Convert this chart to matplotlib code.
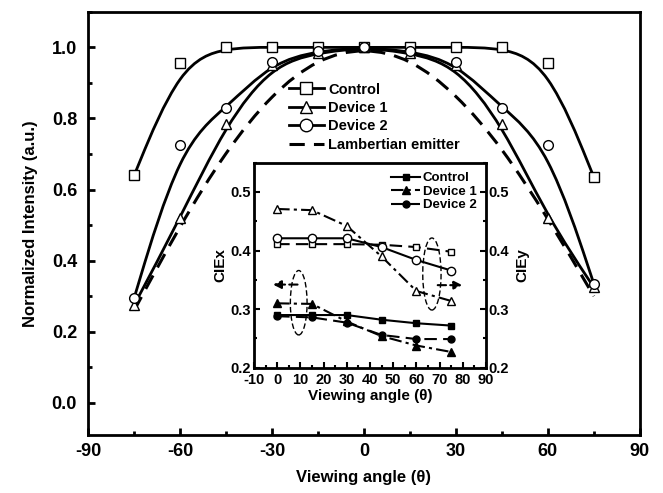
import numpy as np
import matplotlib
matplotlib.use('Agg')
import matplotlib.pyplot as plt
from matplotlib.path import Path
from matplotlib.patches import PathPatch, Ellipse
from matplotlib.lines import Line2D
from matplotlib.ticker import MultipleLocator, FormatStrFormatter

plt.rcParams['font.family'] = ['Liberation Sans', 'DejaVu Sans']
plt.rcParams['font.weight'] = 'bold'
plt.rcParams['axes.unicode_minus'] = False

# main plot: normalized intensity vs viewing angle
angle = [-75, -60, -45, -30, -15, 0, 15, 30, 45, 60, 75]
control = [0.64, 0.955, 1.0, 1.0, 1.0, 1.0, 1.0, 1.0, 1.0, 0.955, 0.635]
device1 = [0.275, 0.52, 0.785, 0.95, 0.985, 1.0, 0.985, 0.95, 0.785, 0.52, 0.325]
device2 = [0.295, 0.725, 0.83, 0.958, 0.99, 1.0, 0.99, 0.958, 0.83, 0.725, 0.335]
lambert = [0.26, 0.5, 0.71, 0.87, 0.97, 1.0, 0.97, 0.87, 0.72, 0.52, 0.3]

# inset: CIE coordinates vs viewing angle
ang_in = [0, 15, 30, 45, 60, 75]
ciex_control = [0.29, 0.29, 0.29, 0.282, 0.276, 0.272]
ciex_dev1 = [0.31, 0.309, 0.279, 0.254, 0.238, 0.227]
ciex_dev2 = [0.288, 0.286, 0.277, 0.256, 0.249, 0.249]
ciey_control = [0.411, 0.411, 0.411, 0.41, 0.406, 0.398]
ciey_dev1 = [0.471, 0.469, 0.442, 0.39, 0.331, 0.314]
ciey_dev2 = [0.421, 0.421, 0.421, 0.406, 0.384, 0.366]


def bspline_curve(ax, x, y, **kw):
    # uniform cubic B-spline (ends clamped), drawn as bezier path
    P = np.column_stack([x, y]).astype(float)
    Q = np.vstack([P[0], P[0], P, P[-1], P[-1]])
    verts = []
    codes = []
    for i in range(1, len(Q) - 2):
        b0 = (Q[i - 1] + 4 * Q[i] + Q[i + 1]) / 6
        b1 = (2 * Q[i] + Q[i + 1]) / 3
        b2 = (Q[i] + 2 * Q[i + 1]) / 3
        b3 = (Q[i] + 4 * Q[i + 1] + Q[i + 2]) / 6
        if not verts:
            verts.append(b0)
            codes.append(Path.MOVETO)
        verts += [b1, b2, b3]
        codes += [Path.CURVE4] * 3
    ax.add_patch(PathPatch(Path(verts, codes), fill=False, **kw))


fig = plt.figure(figsize=(6.63, 4.93), dpi=100)
ax = fig.add_axes([0.133, 0.118, 0.832, 0.858])

lw = 2.0
bspline_curve(ax, angle, control, lw=lw, color='black', zorder=2)
bspline_curve(ax, angle, device1, lw=lw, color='black', zorder=2)
bspline_curve(ax, angle, device2, lw=lw, color='black', zorder=2)
bspline_curve(ax, angle, lambert, lw=2.2, color='black', linestyle=(0, (5, 3)), zorder=2)

mk = dict(linestyle='none', mfc='white', mec='black', mew=1.0, ms=7, zorder=3)
ax.plot(angle, control, marker='s', **mk)
ax.plot(angle, device1, marker='^', **mk)
ax.plot(angle, device2, marker='o', **mk)

ax.set_xlim(-90, 90)
ax.set_ylim(-0.09, 1.1)
ax.xaxis.set_major_locator(MultipleLocator(30))
ax.xaxis.set_minor_locator(MultipleLocator(15))
ax.yaxis.set_major_locator(MultipleLocator(0.2))
ax.yaxis.set_minor_locator(MultipleLocator(0.1))
ax.yaxis.set_major_formatter(FormatStrFormatter('%.1f'))
ax.tick_params(which='both', direction='in', width=2, labelsize=13)
ax.tick_params(axis='x', pad=6)
ax.tick_params(axis='y', pad=8)
ax.tick_params(which='major', length=5)
ax.tick_params(which='minor', length=3)
for s in ax.spines.values():
    s.set_linewidth(2)
ax.set_xlabel('Viewing angle (θ)', fontsize=12, fontweight='bold', labelpad=7)
ax.set_ylabel('Normalized Intensity (a.u.)', fontsize=12, fontweight='bold', labelpad=10)

hl = [Line2D([], [], color='black', lw=lw, marker='s', mfc='white', mec='black', ms=9),
      Line2D([], [], color='black', lw=lw, marker='^', mfc='white', mec='black', ms=9),
      Line2D([], [], color='black', lw=lw, marker='o', mfc='white', mec='black', ms=9),
      Line2D([], [], color='black', lw=2.2, linestyle=(0, (5, 3)))]
ax.legend(hl, ['Control', 'Device 1', 'Device 2', 'Lambertian emitter'],
          loc='upper left', bbox_to_anchor=(0.35, 0.85), frameon=False,
          prop={'size': 10.5, 'weight': 'bold'}, handlelength=2.4,
          handletextpad=0.3, labelspacing=0.3, borderpad=0)

# inset
ins = fig.add_axes([0.383, 0.254, 0.350, 0.416])
ins.plot(ang_in, ciex_control, color='black', lw=1.5, marker='s', ms=5)
ins.plot(ang_in, ciex_dev1, color='black', lw=1.5, marker='^', ms=5.5, linestyle=(0, (6, 2, 1.5, 2)))
ins.plot(ang_in, ciex_dev2, color='black', lw=1.5, marker='o', ms=5, linestyle=(0, (6, 3)))
ins.plot(ang_in, ciey_control, color='black', lw=1.5, marker='s', ms=5, mfc='white', linestyle=(0, (6, 3)))
ins.plot(ang_in, ciey_dev1, color='black', lw=1.5, marker='^', ms=6, mfc='white', linestyle=(0, (6, 2, 1.5, 2)))
ins.plot(ang_in, ciey_dev2, color='black', lw=1.5, marker='o', ms=6, mfc='white')

ins.add_patch(Ellipse((9.3, 0.311), 7.2, 0.11, fill=False, lw=1.0, linestyle=(0, (4, 2))))
ins.add_patch(Ellipse((66.7, 0.36), 7.9, 0.123, fill=False, lw=1.0, linestyle=(0, (4, 2))))
ins.annotate('', xy=(-3, 0.342), xytext=(10, 0.342),
             arrowprops=dict(arrowstyle='-|>', lw=1.5, color='black', linestyle=(0, (4, 2)),
                             mutation_scale=12))
ins.annotate('', xy=(81, 0.341), xytext=(68, 0.341),
             arrowprops=dict(arrowstyle='-|>', lw=1.5, color='black', linestyle=(0, (4, 2)),
                             mutation_scale=12))

ins.set_xlim(-10, 90)
ins.set_ylim(0.2, 0.55)
ins.xaxis.set_major_locator(MultipleLocator(10))
ins.xaxis.set_minor_locator(MultipleLocator(5))
ins.yaxis.set_major_locator(MultipleLocator(0.1))
ins.yaxis.set_minor_locator(MultipleLocator(0.05))
ins.tick_params(which='both', direction='in', width=1.5, labelsize=10.5)
ins.tick_params(axis='x', pad=4)
ins.tick_params(axis='y', pad=2)
ins.tick_params(which='major', length=4)
ins.tick_params(which='minor', length=2.5)
for s in ins.spines.values():
    s.set_linewidth(2)
ins.set_xlabel('Viewing angle (θ)', fontsize=11, fontweight='bold', labelpad=1)
ins.set_ylabel('CIEx', fontsize=11, fontweight='bold', labelpad=2)

ins2 = ins.twinx()
ins2.set_ylim(0.2, 0.55)
ins2.yaxis.set_major_locator(MultipleLocator(0.1))
ins2.yaxis.set_minor_locator(MultipleLocator(0.05))
ins2.tick_params(which='both', direction='in', width=1.5, labelsize=10.5, pad=2)
ins2.tick_params(which='major', length=4)
ins2.tick_params(which='minor', length=2.5)
ins2.set_ylabel('CIEy', fontsize=11, fontweight='bold', labelpad=4)

ins.legend(['Control', 'Device 1', 'Device 2'], loc='upper right', frameon=False,
           prop={'size': 9.5, 'weight': 'bold'}, handlelength=2.2, handletextpad=0.2,
           labelspacing=0.1, borderaxespad=0.3)

fig.savefig('out.png', dpi=100)
